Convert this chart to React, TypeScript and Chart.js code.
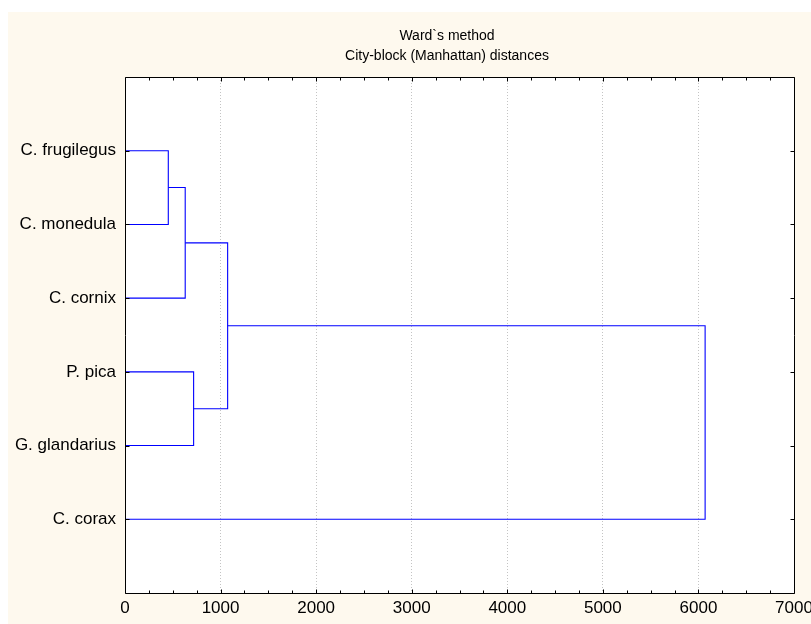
import React, { useEffect, useRef } from "react";
import { Chart, registerables } from "chart.js";

Chart.register(...registerables);

const leafLabels = ["C. frugilegus", "C. monedula", "C. cornix", "P. pica", "G. glandarius", "C. corax"];
// linkage table: leaves 0..5, merge k creates node 6+k
const mergeLeft = [0, 6, 3, 7, 9];
const mergeRight = [1, 2, 4, 8, 5];
const mergeHeights = [453, 630, 718, 1074, 6070];
const xTickValues = [0, 1000, 2000, 3000, 4000, 5000, 6000, 7000];
const titleLines = ["Ward`s method", "City-block (Manhattan) distances"];

const FONT = "'Liberation Sans', Arial, sans-serif";
const CREAM = "#FEF9EE";

function buildSegments() {
  const pos: number[] = leafLabels.map((_, i) => i + 1);
  const hgt: number[] = leafLabels.map(() => 0);
  const sets: { x: number; y: number }[][] = [];
  mergeLeft.forEach((l, k) => {
    const r = mergeRight[k];
    const h = mergeHeights[k];
    sets.push([
      { x: hgt[l], y: pos[l] },
      { x: h, y: pos[l] },
      { x: h, y: pos[r] },
      { x: hgt[r], y: pos[r] },
    ]);
    pos.push((pos[l] + pos[r]) / 2);
    hgt.push(h);
  });
  return sets;
}

const framePlugin = {
  id: "frame",
  beforeDraw(chart: any) {
    const { ctx, scales, width, height } = chart;
    const xs = scales.x;
    const ys = scales.y;
    const L = xs.getPixelForValue(0);
    const R = xs.getPixelForValue(7000);
    const T = ys.getPixelForValue(0);
    const B = ys.getPixelForValue(7);
    ctx.save();
    ctx.fillStyle = CREAM;
    ctx.fillRect(0, 0, width, height);
    ctx.fillStyle = "#ffffff";
    ctx.fillRect(L, T, R - L, B - T);
    ctx.fillStyle = "#000000";
    ctx.font = "14px " + FONT;
    ctx.textAlign = "center";
    ctx.textBaseline = "middle";
    titleLines.forEach((t, i) => ctx.fillText(t, 439, 24 + i * 20));
    ctx.restore();
  },
  afterDraw(chart: any) {
    const { ctx, scales } = chart;
    const xs = scales.x;
    const ys = scales.y;
    ctx.save();
    ctx.strokeStyle = "#000000";
    ctx.lineWidth = 1;
    ctx.beginPath();
    const L = Math.round(xs.getPixelForValue(0)) + 0.5;
    const R = Math.round(xs.getPixelForValue(7000)) + 0.5;
    const T = Math.round(ys.getPixelForValue(0)) + 0.5;
    const B = Math.round(ys.getPixelForValue(7)) + 0.5;
    ctx.rect(L, T, R - L, B - T);
    for (let v = 0; v <= 7000; v += 250) {
      const px = Math.round(xs.getPixelForValue(v)) + 0.5;
      const len = v % 1000 === 0 ? 4 : 3;
      ctx.moveTo(px, B);
      ctx.lineTo(px, B - len);
      ctx.moveTo(px, T);
      ctx.lineTo(px, T + len);
    }
    for (let i = 1; i <= leafLabels.length; i++) {
      const py = Math.round(ys.getPixelForValue(i)) + 0.5;
      ctx.moveTo(R, py);
      ctx.lineTo(R - 4, py);
      ctx.moveTo(L, py);
      ctx.lineTo(L + 4, py);
    }
    ctx.stroke();
    ctx.restore();
  },
};

export default function App() {
  const ref = useRef<HTMLCanvasElement>(null);
  useEffect(() => {
    if (!ref.current) return;
    const segs = buildSegments();
    const chart = new Chart(ref.current, {
      type: "scatter",
      data: {
        datasets: segs.map((s) => ({
          data: s,
          showLine: true,
          borderColor: "#0000ff",
          borderWidth: 1.1,
          pointRadius: 0,
          fill: false,
          tension: 0,
        })),
      },
      options: {
        animation: false,
        responsive: false,
        devicePixelRatio: 1,
        layout: { padding: { left: 0, right: 17, top: 65, bottom: 0 } },
        plugins: {
          legend: { display: false },
          tooltip: { enabled: false },
          title: { display: false },
        },
        scales: {
          x: {
            type: "linear",
            min: 0,
            max: 7000,
            afterBuildTicks: (s: any) => {
              s.ticks = xTickValues.map((v) => ({ value: v }));
            },
            afterFit: (s: any) => {
              s.height = 31;
              s.paddingLeft = 0;
              s.paddingRight = 0;
            },
            ticks: {
              color: "#000000",
              font: { family: FONT, size: 17 },
              padding: 5,
              maxRotation: 0,
              autoSkip: false,
              callback: (v: any) => String(v),
            },
            grid: {
              drawTicks: false,
              color: (c: any) =>
                c.tick && (c.tick.value === 0 || c.tick.value === 7000) ? "rgba(0,0,0,0)" : "#c4c4c4",
              lineWidth: 1,
            },
            border: { display: false, dash: [1, 2] },
          },
          y: {
            type: "linear",
            reverse: true,
            min: 0,
            max: 7,
            afterBuildTicks: (s: any) => {
              s.ticks = [0, 1, 2, 3, 4, 5, 6, 7].map((v) => ({ value: v }));
            },
            afterFit: (s: any) => {
              s.width = 117;
              s.paddingTop = 0;
              s.paddingBottom = 0;
            },
            ticks: {
              color: "#000000",
              font: { family: FONT, size: 17 },
              padding: 9,
              autoSkip: false,
              callback: (v: any) => (v >= 1 && v <= leafLabels.length ? leafLabels[v - 1] : ""),
            },
            grid: { display: false, drawTicks: false },
            border: { display: false },
          },
        },
      },
      plugins: [framePlugin],
    });
    return () => chart.destroy();
  }, []);
  return (
    <div style={{ position: "absolute", left: 8, top: 12, width: 803, height: 612 }}>
      <canvas ref={ref} width={803} height={612} style={{ display: "block", width: 803, height: 612 }} />
    </div>
  );
}
